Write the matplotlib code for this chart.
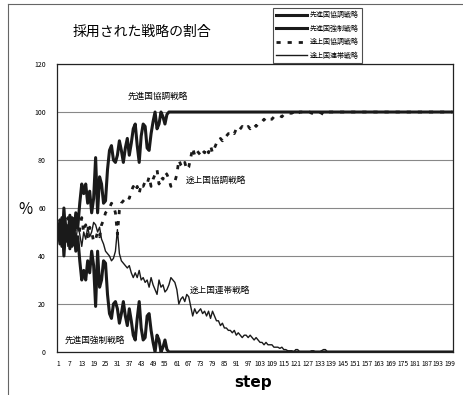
import matplotlib
matplotlib.use("Agg")
import matplotlib.pyplot as plt
from matplotlib.lines import Line2D

plt.rcParams['font.family'] = ['Noto Sans CJK JP', 'DejaVu Sans']

steps = list(range(1, 201))

# 先進国協調戦略
adv_coop = [
    48, 55, 44, 60, 47, 52, 43, 56, 49, 58, 52, 62, 70, 66, 70, 62, 67, 58, 64, 81,
    58, 73, 70, 62, 63, 76, 84, 86, 80, 79, 82, 88, 84, 79, 85, 89, 82, 87, 93, 95,
    86, 79, 90, 95, 94, 85, 84, 91, 96, 100, 93, 95, 100, 98, 95, 99, 100, 100, 100, 100,
    100, 100, 100, 100, 100, 100, 100, 100, 100, 100, 100, 100, 100, 100, 100, 100, 100, 100, 100, 100,
    100, 100, 100, 100, 100, 100, 100, 100, 100, 100, 100, 100, 100, 100, 100, 100, 100, 100, 100, 100,
    100, 100, 100, 100, 100, 100, 100, 100, 100, 100, 100, 100, 100, 100, 100, 100, 100, 100, 100, 100,
    100, 100, 100, 100, 100, 100, 100, 100, 100, 100, 100, 100, 100, 100, 100, 100, 100, 100, 100, 100,
    100, 100, 100, 100, 100, 100, 100, 100, 100, 100, 100, 100, 100, 100, 100, 100, 100, 100, 100, 100,
    100, 100, 100, 100, 100, 100, 100, 100, 100, 100, 100, 100, 100, 100, 100, 100, 100, 100, 100, 100,
    100, 100, 100, 100, 100, 100, 100, 100, 100, 100, 100, 100, 100, 100, 100, 100, 100, 100, 100, 100,
]

# 先進国強制戦略
adv_force = [
    52, 45, 56, 40, 53, 48, 57, 44, 51, 42, 48, 38, 30, 34, 30, 38, 33, 42, 36, 19,
    42, 27, 30, 38, 37, 24, 16, 14, 20, 21, 18, 12, 16, 21, 15, 11, 18, 13, 7, 5,
    14, 21, 10, 5, 6, 15, 16, 9, 4, 0, 7, 5, 0, 2, 5, 1, 0, 0, 0, 0,
    0, 0, 0, 0, 0, 0, 0, 0, 0, 0, 0, 0, 0, 0, 0, 0, 0, 0, 0, 0,
    0, 0, 0, 0, 0, 0, 0, 0, 0, 0, 0, 0, 0, 0, 0, 0, 0, 0, 0, 0,
    0, 0, 0, 0, 0, 0, 0, 0, 0, 0, 0, 0, 0, 0, 0, 0, 0, 0, 0, 0,
    0, 0, 0, 0, 0, 0, 0, 0, 0, 0, 0, 0, 0, 0, 0, 0, 0, 0, 0, 0,
    0, 0, 0, 0, 0, 0, 0, 0, 0, 0, 0, 0, 0, 0, 0, 0, 0, 0, 0, 0,
    0, 0, 0, 0, 0, 0, 0, 0, 0, 0, 0, 0, 0, 0, 0, 0, 0, 0, 0, 0,
    0, 0, 0, 0, 0, 0, 0, 0, 0, 0, 0, 0, 0, 0, 0, 0, 0, 0, 0, 0,
]

# 途上国協調戦略
dev_coop = [
    50, 55, 47, 53, 45, 56, 48, 52, 44, 54, 47, 51, 56, 50, 53, 48, 52, 50, 46, 47,
    50, 48, 53, 55, 58, 59, 60, 62, 61, 58, 49, 59, 62, 63, 64, 65, 64, 67, 69, 67,
    69, 66, 70, 69, 71, 70, 73, 69, 72, 74, 76, 70, 73, 72, 75, 74, 72, 69, 70, 71,
    74, 80, 78, 77, 79, 76, 77, 81, 85, 82, 84, 83, 82, 84, 83, 85, 83, 86, 83, 85,
    87, 87, 89, 88, 90, 90, 91, 91, 92, 91, 93, 92, 93, 94, 93, 93, 94, 93, 94, 95,
    94, 95, 96, 96, 97, 96, 97, 97, 97, 98, 98, 98, 98.5, 98, 99, 99, 99.5, 99.5, 99.5, 100,
    99, 99, 100, 100, 100, 100, 100, 100, 99.5, 99.5, 100, 100, 100, 99.5, 99, 99, 100, 100, 100, 100,
    100, 100, 100, 100, 100, 100, 100, 100, 100, 100, 100, 100, 100, 100, 100, 100, 100, 100, 100, 100,
    100, 100, 100, 100, 100, 100, 100, 100, 100, 100, 100, 100, 100, 100, 100, 100, 100, 100, 100, 100,
    100, 100, 100, 100, 100, 100, 100, 100, 100, 100, 100, 100, 100, 100, 100, 100, 100, 100, 100, 100,
]

# 途上国連帯戦略
dev_unite = [
    50, 45, 53, 47, 55, 44, 52, 48, 56, 46, 53, 49, 44, 50, 47, 52, 48, 50, 54, 53,
    50, 52, 47, 45, 42, 41, 40, 38, 39, 42, 51, 41, 38, 37, 36, 35, 36, 33, 31, 33,
    31, 34, 30, 31, 29, 30, 27, 31, 28, 26, 24, 30, 27, 28, 25, 26, 28, 31, 30, 29,
    26, 20, 22, 23, 21, 24, 23, 19, 15, 18, 16, 17, 18, 16, 17, 15, 17, 14, 17, 15,
    13, 13, 11, 12, 10, 10, 9, 9, 8, 9, 7, 8, 7, 6, 7, 7, 6, 7, 6, 5,
    6, 5, 4, 4, 3, 4, 3, 3, 3, 2, 2, 2, 1.5, 2, 1, 1, 0.5, 0.5, 0.5, 0,
    1, 1, 0, 0, 0, 0, 0, 0, 0.5, 0.5, 0, 0, 0, 0.5, 1, 1, 0, 0, 0, 0,
    0, 0, 0, 0, 0, 0, 0, 0, 0, 0, 0, 0, 0, 0, 0, 0, 0, 0, 0, 0,
    0, 0, 0, 0, 0, 0, 0, 0, 0, 0, 0, 0, 0, 0, 0, 0, 0, 0, 0, 0,
    0, 0, 0, 0, 0, 0, 0, 0, 0, 0, 0, 0, 0, 0, 0, 0, 0, 0, 0, 0,
]

names = ['先進国協調戦略', '先進国強制戦略', '途上国協調戦略', '途上国連帯戦略']
xticks = list(range(1, 200, 6))
yticks = [0, 20, 40, 60, 80, 100, 120]

fig = plt.figure(figsize=(4.64, 3.95), dpi=100)
ax = fig.add_axes([0.1228, 0.1089, 0.854, 0.729])

l1, = ax.plot(steps, adv_coop, color='#1a1a1a', lw=2.2)
l2, = ax.plot(steps, adv_force, color='#1a1a1a', lw=2.2)
l3, = ax.plot(steps, dev_coop, color='#1a1a1a', lw=2.0, linestyle=(0, (1.5, 2.5)))
l4, = ax.plot(steps, dev_unite, color='#1a1a1a', lw=1.0)

ax.set_xlim(0.5, 200.5)
ax.set_ylim(0, 120)
ax.set_yticks(yticks)
ax.set_xticks(xticks)
ax.set_xticklabels([str(t) for t in xticks], fontsize=4.8)
ax.tick_params(axis='y', labelsize=5, length=0, pad=8)
ax.tick_params(axis='x', length=0, pad=6)
ax.yaxis.grid(True, color='#888888', lw=0.8)
ax.set_axisbelow(True)
for s in ax.spines.values():
    s.set_linewidth(0.9)
    s.set_color('#222222')

ax.text(51.5, 106.7, names[0], fontsize=6.2, ha='center', va='center')
ax.text(80.8, 71.7, names[2], fontsize=6.2, ha='center', va='center')
ax.text(82.8, 25.8, names[3], fontsize=6.2, ha='center', va='center')
ax.text(19.7, 5, names[1], fontsize=6.2, ha='center', va='center')

fig.text(0.306, 0.919, '採用された戦略の割合', fontsize=10, ha='center', va='center')
fig.text(25 / 464, 1 - 210 / 395, '%', fontsize=11, ha='center', va='center')
fig.text(253 / 464, 1 - 383 / 395, 'step', fontsize=11, ha='center', va='center',
         fontweight='bold', family=['DejaVu Sans'])

leg = fig.legend([l1, l2, l3, l4], names, loc='upper left',
                 bbox_to_anchor=(273 / 464, 1 - 8 / 395), fontsize=5,
                 frameon=True, fancybox=False, edgecolor='#222222',
                 handlelength=4.5, handletextpad=0.3, borderpad=0.45,
                 labelspacing=0.8, borderaxespad=0)
leg.get_frame().set_linewidth(0.8)

# scanned page frame
fig.add_artist(Line2D([8 / 464, 8 / 464], [0, 1 - 4 / 395], color='#666666', lw=0.8))
fig.add_artist(Line2D([8 / 464, 1], [1 - 4 / 395, 1 - 4 / 395], color='#666666', lw=0.8))

fig.savefig('out.png', dpi=100)
